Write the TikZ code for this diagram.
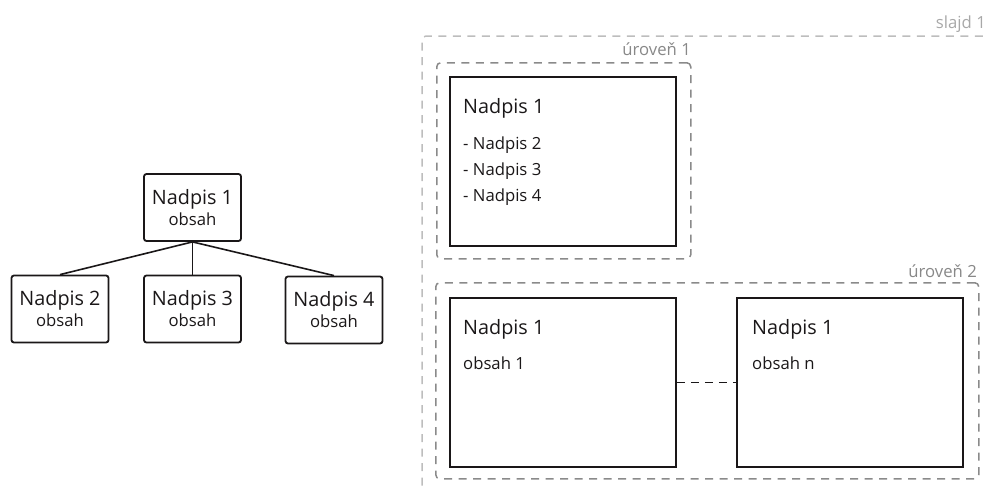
\documentclass[tikz,border=0pt]{standalone}
\usepackage{fontspec}
\setmainfont{Open Sans}
\definecolor{outergray}{HTML}{BDBDBD}
\definecolor{levelgray}{HTML}{8A8A8A}
\definecolor{labelgray}{HTML}{888888}
\definecolor{slidegray}{HTML}{A8A8A8}
\definecolor{ink}{HTML}{1A1718}
\newcommand{\headfont}{\fontsize{19.8}{21}\selectfont}
\newcommand{\bodyfont}{\fontsize{16.7}{21}\selectfont}
\begin{document}
\begin{tikzpicture}[x=1pt,y=-1pt,
  treebox/.style={draw=ink, line width=1.8pt, rounded corners=2.5pt, inner sep=0pt,
    align=center, minimum width=97, minimum height=67, text=ink, font=\bodyfont},
  slidebox/.style={draw=ink, line width=1.8pt, inner sep=0pt, anchor=north west,
    minimum width=226, minimum height=169},
  levelframe/.style={draw=levelgray, line width=1.5pt, dash pattern=on 8pt off 6.5pt,
    rounded corners=4pt, inner sep=0pt, anchor=north west},
  outerframe/.style={draw=outergray, line width=1.5pt, dash pattern=on 8pt off 6.5pt,
    rounded corners=4pt},
  label/.style={anchor=base east, inner sep=0pt, font=\bodyfont},
  txt/.style={anchor=base west, inner sep=0pt, text=ink},
  link/.style={draw=ink, line width=1.6pt}
]
\useasboundingbox (0,0) rectangle (987,485);

% ---- hierarchy on the left ----
\node[treebox] (t1) at (192.5,207.5) {{\headfont Nadpis 1}\\{\bodyfont obsah}};
\node[treebox] (t2) at (60,309) {{\headfont Nadpis 2}\\{\bodyfont obsah}};
\node[treebox] (t3) at (192.5,309) {{\headfont Nadpis 3}\\{\bodyfont obsah}};
\node[treebox] (t4) at (334,310) {{\headfont Nadpis 4}\\{\bodyfont obsah}};
\draw[link] (t1.south) -- (t2.north);
\draw[link] (t1.south) -- (t3.north);
\draw[link] (t1.south) -- (t4.north);

% ---- slide layout on the right ----
\begin{scope}
\clip (0,0) rectangle (987,485);
\coordinate (o1) at (422,500);
\coordinate (o2) at (422,36);
\coordinate (o3) at (1000,36);
\draw[outerframe] (o1) -- (o2) -- (o3);
\end{scope}
\node[label, text=slidegray] (lslide) at (986,28) {slajd 1};

\node[levelframe, minimum width=254, minimum height=196] (lvl1) at (436,62) {};
\node[label, text=labelgray] (l1) at (691,55) {úroveň 1};
\node[levelframe, minimum width=543, minimum height=196] (lvl2) at (435,282) {};
\node[label, text=labelgray] (l2) at (977,277) {úroveň 2};

\node[slidebox] (s1) at (449,76) {};
\node[txt, font=\headfont] (s1h) at (463,113) {Nadpis 1};
\node[txt, font=\bodyfont] (s1a) at (463,149) {- Nadpis 2};
\node[txt, font=\bodyfont] (s1b) at (463,175) {- Nadpis 3};
\node[txt, font=\bodyfont] (s1c) at (463,201) {- Nadpis 4};

\node[slidebox] (sA) at (449,297) {};
\node[txt, font=\headfont] (sAh) at (463,334) {Nadpis 1};
\node[txt, font=\bodyfont] (sAb) at (463,369) {obsah 1};

\node[slidebox] (sB) at (736,297) {};
\node[txt, font=\headfont] (sBh) at (752,334) {Nadpis 1};
\node[txt, font=\bodyfont] (sBb) at (752,369) {obsah n};

\draw[link, dash pattern=on 8pt off 6pt] (sA.east) -- (sB.west);
\end{tikzpicture}
\end{document}
